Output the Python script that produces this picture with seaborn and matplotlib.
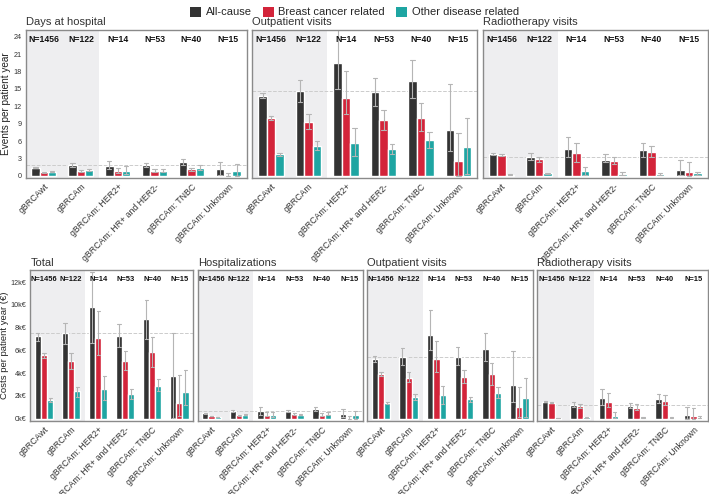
import matplotlib
matplotlib.use("Agg")
import matplotlib.pyplot as plt
import seaborn as sns
import pandas as pd
from matplotlib.patches import Patch

# Categories
groups = ["gBRCAwt", "gBRCAm", "gBRCAm: HER2+", "gBRCAm: HR+ and HER2-",
          "gBRCAm: TNBC", "gBRCAm: Unknown"]
n_labels = ["N=1456", "N=122", "N=14", "N=53", "N=40", "N=15"]
causes = ["All-cause", "Breast cancer related", "Other disease related"]
colors = ["#333333", "#d3243a", "#1ea5a2"]

# Events per patient year (rows: all-cause, breast cancer, other disease)
days_mean = [[1.4, 1.9, 1.7, 1.9, 2.4, 1.1],
             [0.6, 0.9, 0.8, 0.9, 1.1, 0.2],
             [0.7, 1.0, 0.8, 0.8, 1.4, 0.9]]
days_lo = [[1.3, 1.6, 1.1, 1.6, 1.9, 0.2],
           [0.55, 0.7, 0.4, 0.7, 0.8, 0.0],
           [0.6, 0.8, 0.3, 0.6, 1.0, 0.0]]
days_hi = [[1.5, 2.2, 2.6, 2.2, 2.9, 2.4],
           [0.65, 1.0, 1.3, 1.1, 1.3, 0.5],
           [0.8, 1.2, 1.7, 1.1, 1.8, 2.1]]

outp_mean = [[13.8, 14.7, 19.5, 14.4, 16.4, 7.9],
             [9.9, 9.2, 13.5, 9.6, 10.0, 2.6],
             [3.7, 5.2, 5.7, 4.6, 6.2, 5.0]]
outp_lo = [[13.4, 12.8, 15.0, 12.0, 13.4, 4.2],
           [9.6, 8.0, 10.6, 7.9, 7.8, 0.0],
           [3.5, 4.4, 3.5, 3.7, 4.8, 0.3]]
outp_hi = [[14.2, 16.6, 25.7, 16.8, 19.9, 15.9],
           [10.3, 10.7, 18.0, 11.4, 12.6, 7.3],
           [3.9, 6.0, 8.2, 5.5, 7.6, 9.9]]

radio_mean = [[3.8, 3.2, 4.6, 2.8, 4.4, 1.0],
              [3.6, 2.9, 3.9, 2.5, 4.1, 0.65],
              [0.2, 0.4, 0.8, 0.35, 0.3, 0.4]]
radio_lo = [[3.6, 2.7, 3.2, 2.3, 3.3, 0.1],
            [3.4, 2.4, 2.3, 2.0, 3.3, 0.0],
            [0.1, 0.3, 0.2, 0.2, 0.2, 0.2]]
radio_hi = [[3.9, 3.9, 6.7, 3.7, 5.6, 2.75],
            [3.7, 3.3, 5.7, 3.2, 5.1, 2.4],
            [0.3, 0.5, 1.5, 0.65, 0.5, 0.6]]

# Costs per patient year (k€)
total_mean = [[7.24, 7.5, 9.82, 7.24, 8.74, 3.72],
              [5.57, 5.07, 7.13, 5.07, 5.87, 1.38],
              [1.64, 2.43, 2.64, 2.17, 2.87, 2.32]]
total_lo = [[6.86, 6.6, 6.63, 6.33, 6.98, 0.03],
            [5.3, 4.37, 5.57, 4.28, 4.57, 0.26],
            [1.5, 1.94, 1.64, 1.73, 2.46, 1.2]]
total_hi = [[7.57, 8.42, 12.87, 8.33, 10.44, 7.5],
            [5.8, 5.8, 9.5, 5.92, 7.18, 3.81],
            [1.85, 2.8, 3.75, 2.6, 3.46, 4.28]]

hosp_mean = [[0.47, 0.67, 0.67, 0.67, 0.85, 0.41],
             [0.23, 0.29, 0.35, 0.38, 0.35, 0.09],
             [0.15, 0.35, 0.32, 0.35, 0.44, 0.32]]
hosp_lo = [[0.44, 0.58, 0.35, 0.55, 0.7, 0.1],
           [0.21, 0.24, 0.2, 0.3, 0.25, 0.0],
           [0.13, 0.28, 0.15, 0.28, 0.3, 0.0]]
hosp_hi = [[0.5, 0.77, 1.0, 0.8, 1.0, 0.82],
           [0.25, 0.36, 0.55, 0.46, 0.47, 0.2],
           [0.17, 0.42, 0.55, 0.42, 0.6, 0.7]]

cout_mean = [[5.25, 5.45, 7.33, 5.4, 6.13, 2.93],
             [3.9, 3.58, 5.25, 3.67, 3.9, 1.06],
             [1.38, 1.88, 2.05, 1.7, 2.26, 1.85]]
cout_lo = [[5.0, 4.69, 6.01, 4.72, 5.04, 1.5],
           [3.75, 3.26, 4.13, 3.14, 2.96, 0.18],
           [1.29, 1.61, 1.26, 1.44, 1.82, 0.12]]
cout_hi = [[5.5, 6.19, 9.53, 6.28, 7.5, 5.92],
           [4.08, 4.08, 6.86, 4.31, 4.9, 2.76],
           [1.47, 2.2, 2.84, 1.94, 2.79, 3.55]]

crad_mean = [[1.47, 1.23, 1.79, 1.11, 1.7, 0.32],
             [1.38, 1.09, 1.5, 0.94, 1.58, 0.23],
             [0.06, 0.12, 0.23, 0.09, 0.09, 0.09]]
crad_lo = [[1.42, 1.0, 1.2, 0.9, 1.4, 0.0],
           [1.33, 0.95, 1.0, 0.75, 1.2, 0.0],
           [0.04, 0.08, 0.05, 0.05, 0.05, 0.03]]
crad_hi = [[1.52, 1.44, 2.6, 1.38, 2.17, 1.03],
           [1.43, 1.25, 2.29, 1.26, 2.05, 0.9],
           [0.08, 0.16, 0.6, 0.15, 0.14, 0.2]]

cost_ticks = [0, 2, 4, 6, 8, 10, 12]
event_ticks = [0, 3, 6, 9, 12, 15, 18, 21, 24]


def long_frame(mean, lo, hi):
    # three rows per bar: median gives the value, 100% interval gives lo..hi
    rows = []
    for ci, cause in enumerate(causes):
        for gi, grp in enumerate(groups):
            for v in (lo[ci][gi], mean[ci][gi], hi[ci][gi]):
                rows.append({"group": grp, "cause": cause, "value": v})
    return pd.DataFrame(rows)


def draw_panel(ax, title, mean, lo, hi, ylim, first, ticks, fmt, nsize):
    df = long_frame(mean, lo, hi)
    ax.axvspan(-0.5, 1.5, color="#eeeef0", zorder=0, lw=0)
    sns.barplot(data=df, x="group", y="value", hue="cause", order=groups,
                hue_order=causes, palette=colors, estimator="median",
                errorbar=("pi", 100), width=0.68, capsize=0.35, saturation=1,
                err_kws={"color": "#b5b5b5", "linewidth": 0.8},
                legend=False, ax=ax, zorder=2)
    ax.axhline(mean[0][1], color="#cccccc", ls="--", lw=0.7, zorder=1)
    ax.set_xlim(-0.5, 5.5)
    ax.set_ylim(*ylim)
    ax.set_xlabel("")
    ax.set_ylabel("")
    for i, lab in enumerate(n_labels):
        ax.text(i, 0.935, lab, transform=ax.get_xaxis_transform(), ha="center",
                va="center", fontsize=nsize, fontweight="bold", color="#111111")
    ax.set_title(title, loc="left", fontsize=8, color="#333333", pad=3)
    ax.set_xticks(range(len(groups)))
    ax.set_xticklabels(groups, rotation=45, ha="right", rotation_mode="anchor",
                       fontsize=6.3, color="#333333")
    ax.tick_params(axis="x", length=2, color="#555555", pad=1)
    if first:
        ax.set_yticks(ticks)
        ax.set_yticklabels([fmt(t) for t in ticks], fontsize=5.2, color="#333333")
        ax.tick_params(axis="y", length=2, color="#555555", pad=1)
    else:
        ax.set_yticks([])
    for sp in ax.spines.values():
        sp.set_color("#8a8a8a")
        sp.set_linewidth(1.0)
    ax.set_facecolor("white")


sns.set_theme(style="white")
plt.rcParams["font.family"] = ["Liberation Sans", "DejaVu Sans"]

fig = plt.figure(figsize=(7.09, 4.94), dpi=100)

top_y, top_h = 0.640, 0.300
top_axes = [fig.add_axes([0.036, top_y, 0.312, top_h]),
            fig.add_axes([0.356, top_y, 0.317, top_h]),
            fig.add_axes([0.681, top_y, 0.317, top_h])]
bot_y, bot_h = 0.148, 0.306
bot_axes = [fig.add_axes([0.043, bot_y, 0.229, bot_h]),
            fig.add_axes([0.279, bot_y, 0.233, bot_h]),
            fig.add_axes([0.518, bot_y, 0.234, bot_h]),
            fig.add_axes([0.758, bot_y, 0.240, bot_h])]

ev_fmt = lambda t: f"{t}"
cost_fmt = lambda t: f"{t}k€"

draw_panel(top_axes[0], "Days at hospital", days_mean, days_lo, days_hi,
           (-0.35, 25.2), True, event_ticks, ev_fmt, 6.2)
draw_panel(top_axes[1], "Outpatient visits", outp_mean, outp_lo, outp_hi,
           (-0.35, 25.2), False, event_ticks, ev_fmt, 6.2)
draw_panel(top_axes[2], "Radiotherapy visits", radio_mean, radio_lo, radio_hi,
           (-0.35, 25.2), False, event_ticks, ev_fmt, 6.2)

draw_panel(bot_axes[0], "Total", total_mean, total_lo, total_hi,
           (-0.2, 13.1), True, cost_ticks, cost_fmt, 5.4)
draw_panel(bot_axes[1], "Hospitalizations", hosp_mean, hosp_lo, hosp_hi,
           (-0.2, 13.1), False, cost_ticks, cost_fmt, 5.4)
draw_panel(bot_axes[2], "Outpatient visits", cout_mean, cout_lo, cout_hi,
           (-0.2, 13.1), False, cost_ticks, cost_fmt, 5.4)
draw_panel(bot_axes[3], "Radiotherapy visits", crad_mean, crad_lo, crad_hi,
           (-0.2, 13.1), False, cost_ticks, cost_fmt, 5.4)

fig.text(0.009, top_y + top_h / 2, "Events per patient year", rotation=90,
         ha="center", va="center", fontsize=7.2, color="#222222")
fig.text(0.0068, bot_y + bot_h / 2, "Costs per patient year (€)", rotation=90,
         ha="center", va="center", fontsize=6.8, color="#222222")

handles = [Patch(facecolor=c, edgecolor="none", label=l) for c, l in zip(colors, causes)]
fig.legend(handles=handles, loc="upper center", bbox_to_anchor=(0.5, 1.0),
           ncol=3, frameon=False, fontsize=8, handlelength=1.0, handleheight=1.0,
           handletextpad=0.4, columnspacing=1.0, borderaxespad=0.2)

fig.savefig("out.png", dpi=100)
